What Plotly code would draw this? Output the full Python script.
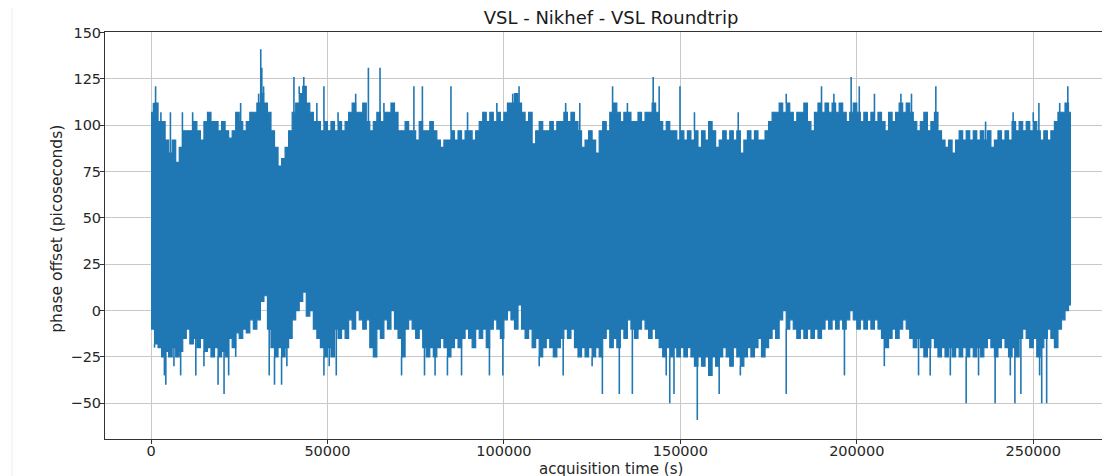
import plotly.graph_objects as go

# ---- data (picoseconds vs seconds) ----
t_step = 1000          # spacing of envelope samples (s)
t_end = 260700         # last acquisition time (s)

# upper edge of the dense band, one value per 1000 s (0 .. 260000 s)
upper_env = [
    107, 112, 102, 102, 92, 85, 92, 80, 88, 97,
    97, 97, 102, 97, 92, 102, 107, 102, 102, 97,
    102, 97, 93, 97, 107, 102, 97, 102, 107, 107,
    112, 117, 112, 107, 97, 88, 78, 82, 88, 97,
    107, 112, 117, 121, 112, 107, 102, 102, 97, 102,
    97, 102, 97, 102, 97, 102, 107, 112, 107, 107,
    112, 102, 97, 102, 107, 102, 107, 107, 112, 107,
    97, 97, 102, 97, 97, 92, 102, 97, 97, 102,
    97, 92, 88, 92, 92, 97, 92, 97, 92, 97,
    97, 92, 97, 102, 107, 102, 107, 102, 107, 102,
    107, 112, 112, 117, 112, 107, 102, 107, 90, 97,
    102, 97, 97, 102, 97, 102, 102, 107, 102, 107,
    102, 97, 88, 92, 97, 92, 85, 97, 102, 97,
    107, 112, 107, 102, 107, 107, 102, 102, 107, 102,
    107, 107, 112, 107, 102, 97, 102, 97, 97, 92,
    97, 92, 97, 92, 97, 88, 97, 92, 102, 97,
    88, 92, 97, 92, 97, 92, 97, 85, 92, 97,
    92, 97, 92, 92, 97, 102, 107, 107, 112, 107,
    112, 107, 102, 107, 107, 112, 102, 97, 107, 112,
    107, 112, 107, 112, 107, 112, 107, 102, 107, 112,
    107, 102, 107, 102, 107, 102, 107, 102, 97, 107,
    102, 107, 112, 107, 112, 107, 102, 97, 102, 107,
    97, 102, 107, 97, 92, 88, 92, 85, 92, 97,
    92, 97, 92, 97, 92, 97, 92, 97, 88, 92,
    97, 92, 97, 92, 102, 97, 102, 97, 102, 97,
    102, 97, 92, 97, 92, 97, 102, 107, 107, 112,
    107,
]

# lower edge of the dense band, one value per 1000 s (0 .. 260000 s)
lower_env = [
    -10, -18, -20, -25, -22, -25, -20, -25, -22, -15,
    -10, -18, -15, -20, -15, -22, -20, -25, -20, -25,
    -22, -25, -15, -20, -12, -15, -10, -12, -5, -10,
    -5, 5, 8, -10, -20, -25, -20, -25, -20, -15,
    -5, 0, 5, 10, -3, 0, -10, -15, -20, -25,
    -20, -25, -10, -15, -10, -15, -5, -10, 0, -5,
    -10, -5, -20, -25, -10, -15, -5, -10, 0, -10,
    -15, -25, -10, -5, -10, -15, -10, -20, -25, -20,
    -25, -20, -15, -20, -25, -20, -15, -20, -15, -10,
    -15, -20, -10, -15, -10, -20, -10, -5, -10, -15,
    -5, 0, -5, -10, 3, -10, -15, -10, -20, -15,
    -25, -20, -15, -20, -25, -20, -15, -10, -15, -10,
    -20, -25, -20, -25, -20, -25, -20, -25, -15, -10,
    -20, -15, -20, -10, -15, -5, -10, -15, -10, -5,
    -10, -15, -10, -15, -20, -25, -20, -25, -20, -25,
    -20, -25, -20, -25, -30, -25, -30, -25, -35, -25,
    -30, -25, -20, -25, -30, -20, -25, -30, -25, -20,
    -25, -20, -15, -25, -20, -15, -10, -15, -5, 0,
    -10, -5, -10, -15, -10, -15, -10, -15, -10, -15,
    -10, -5, -10, -5, -10, -5, -10, -5, 0, -5,
    -10, -5, -10, -5, -10, -5, -10, -15, -20, -15,
    -10, -15, -10, -5, -10, -15, -20, -15, -20, -25,
    -20, -15, -20, -25, -20, -25, -20, -25, -20, -25,
    -20, -25, -20, -25, -20, -25, -20, -15, -20, -25,
    -20, -15, -20, -25, -20, -25, -15, -10, -15, -20,
    -15, -25, -20, -15, -10, -15, -20, -10, -5, 0,
    3,
]

spike_t = [700, 1300, 2800, 5500, 8900, 11800, 25400, 30500, 31100, 31400,
           31900, 40500, 42000, 43300, 47000, 49000, 53000, 58000, 61600, 64900,
           66000, 74500, 76900, 85000, 89700, 98000, 102500, 104300, 117500, 121500,
           130800, 135000, 142300, 144000, 149900, 154000, 166400, 180000, 190000, 193500,
           198400, 200700, 205000, 212500, 215500, 222400, 236500, 244300, 250000, 251600,
           257500, 259800]
spike_hi = [112, 121, 107, 107, 107, 107, 112, 117, 141, 131,
            121, 126, 121, 126, 112, 121, 107, 117, 131, 131,
            112, 121, 121, 121, 107, 112, 117, 121, 112, 112,
            121, 112, 126, 121, 121, 107, 107, 117, 121, 117,
            126, 121, 117, 117, 117, 121, 102, 107, 107, 112,
            112, 121]

dip_t = [1000, 3800, 4200, 6500, 8400, 12700, 15000, 19000, 20700, 22000,
         24000, 33500, 35000, 37000, 38500, 49000, 50500, 52500, 63000, 71000,
         77500, 80500, 84000, 88000, 95900, 99700, 110000, 116800, 125000, 127900,
         132700, 136400, 146000, 147000, 148200, 154800, 161000, 167000, 180000, 196500,
         207800, 217500, 220800, 226500, 231000, 234500, 239200, 243500, 244800, 246500,
         251800, 252400, 253800]
dip_lo = [-20, -35, -40, -30, -35, -35, -30, -40, -45, -35,
          -25, -35, -40, -40, -30, -35, -30, -35, -25, -35,
          -35, -35, -35, -35, -35, -35, -30, -35, -30, -45,
          -45, -45, -35, -50, -45, -59, -45, -35, -45, -35,
          -30, -35, -35, -35, -50, -35, -50, -35, -50, -45,
          -35, -50, -50]

title_text = "VSL - Nikhef - VSL Roundtrip"
x_label = "acquisition time (s)"
y_label = "phase offset (picoseconds)"
x_ticks = [0, 50000, 100000, 150000, 200000, 250000]
y_ticks = [-50, -25, 0, 25, 50, 75, 100, 125, 150]

# ---- build traces ----
BLUE = "#1f77b4"
FONT = "DejaVu Sans"

t_env = [i * t_step for i in range(len(upper_env))] + [t_end]
up = upper_env + [upper_env[-1]]
lo = lower_env + [lower_env[-1]]


def env_at(env, t):
    i = min(len(env) - 1, int(t // t_step))
    return env[i]


sx, sy = [], []
for t, v in zip(spike_t, spike_hi):
    sx += [t, t, None]
    sy += [env_at(upper_env, t), v, None]
dx, dy = [], []
for t, v in zip(dip_t, dip_lo):
    dx += [t, t, None]
    dy += [env_at(lower_env, t), v, None]

fig = go.Figure()
fig.add_trace(go.Scatter(x=t_env, y=lo, mode="lines",
                         line=dict(color=BLUE, width=1.2, shape="hv"),
                         showlegend=False, hoverinfo="skip"))
fig.add_trace(go.Scatter(x=t_env, y=up, mode="lines", fill="tonexty",
                         fillcolor=BLUE,
                         line=dict(color=BLUE, width=1.2, shape="hv"),
                         showlegend=False, hoverinfo="skip"))
fig.add_trace(go.Scatter(x=sx, y=sy, mode="lines",
                         line=dict(color=BLUE, width=1.6),
                         showlegend=False, hoverinfo="skip"))
fig.add_trace(go.Scatter(x=dx, y=dy, mode="lines",
                         line=dict(color=BLUE, width=1.6),
                         showlegend=False, hoverinfo="skip"))

axis_common = dict(
    showgrid=True, gridcolor="#c8c8c8", gridwidth=0.8,
    zeroline=False, showline=True, linecolor="#333333", linewidth=1,
    ticks="outside", ticklen=4, tickwidth=0.8, tickcolor="#333333",
    tickfont=dict(family=FONT, size=14.5, color="#262626"),
)

# the page body adds an 8 px offset, so the figure is sized to fill the rest
fig.update_layout(
    width=1102, height=468, autosize=False,
    paper_bgcolor="white", plot_bgcolor="white",
    margin=dict(l=97, r=0, t=24, b=37),
    title=dict(text=title_text, x=0.5035, xref="paper", y=0.9786,
               yref="container", xanchor="center", yanchor="middle",
               font=dict(family=FONT, size=18, color="#1a1a1a")),
    xaxis=dict(range=[-13035, 271750], tickvals=x_ticks, tickformat="d",
               mirror=True, ticklabelstandoff=-5, **axis_common),
    yaxis=dict(range=[-69.3, 150.3], tickvals=y_ticks,
               ticklabelstandoff=-4, **axis_common),
    annotations=[
        dict(text=x_label, xref="paper", yref="paper", x=0.5035, y=-0.047,
             xanchor="center", yanchor="top", showarrow=False,
             font=dict(family=FONT, size=15, color="#262626")),
        dict(text=y_label, xref="paper", yref="paper", x=-0.048, y=0.516,
             xanchor="center", yanchor="middle", textangle=-90,
             showarrow=False,
             font=dict(family=FONT, size=15.5, color="#262626")),
    ],
    shapes=[dict(type="line", xref="paper", yref="paper",
                 x0=-0.0925, x1=-0.0925, y0=-0.1, y1=1.1,
                 line=dict(color="#ececec", width=1))],
)

fig.write_html("out.html")
